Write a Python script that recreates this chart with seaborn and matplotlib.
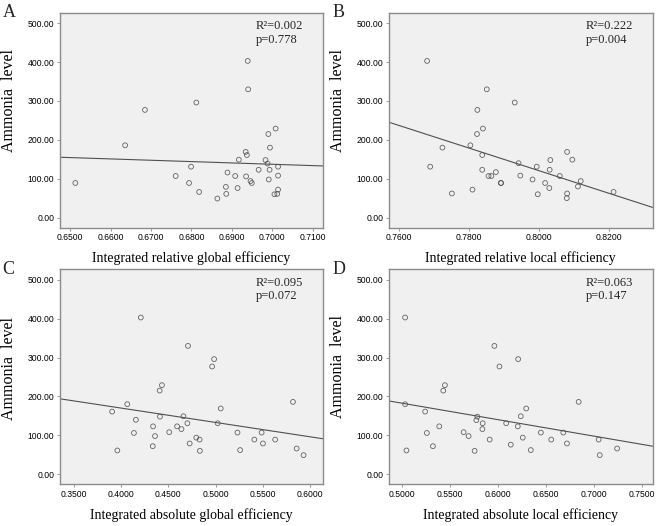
import matplotlib
matplotlib.use("Agg")
import matplotlib.pyplot as plt
from matplotlib.ticker import FormatStrFormatter
import numpy as np
import pandas as pd
import seaborn as sns

# ammonia level vs four network efficiency measures
relGlobal = [0.6513, 0.6636, 0.6685, 0.6761, 0.6794, 0.6799, 0.6812, 0.6819, 0.6864, 0.6885,
             0.6886, 0.6889, 0.6908, 0.6914, 0.6917, 0.6934, 0.6937, 0.6935, 0.6939, 0.6940,
             0.6946, 0.6949, 0.6966, 0.6983, 0.6988, 0.6990, 0.6991, 0.6993, 0.6994, 0.7008,
             0.7005, 0.7012, 0.7014, 0.7014, 0.7014]
ammoniaA = [89, 186, 277, 107, 89, 131, 296, 66, 49, 79, 61, 116, 107, 76, 149, 169, 161, 106,
            403, 330, 94, 89, 123, 148, 139, 215, 98, 123, 180, 229, 60, 61, 72, 131, 108]

relLocal = [0.7680, 0.7689, 0.7724, 0.7751, 0.7804, 0.7810, 0.7823, 0.7824, 0.7838, 0.7838,
            0.7840, 0.7856, 0.7864, 0.7877, 0.7851, 0.7891, 0.7892, 0.7931, 0.7942, 0.7947,
            0.7982, 0.7994, 0.7997, 0.8018, 0.8030, 0.8031, 0.8033, 0.8060, 0.8080, 0.8081,
            0.8081, 0.8096, 0.8112, 0.8120, 0.8214]
ammoniaB = [403, 131, 180, 62, 186, 72, 215, 277, 161, 123, 229, 107, 107, 117, 330, 89, 89,
            296, 140, 108, 98, 131, 60, 89, 76, 123, 148, 107, 50, 62, 169, 149, 80, 94, 66]

absGlobal = [0.4211, 0.4709, 0.4434, 0.4410, 0.4068, 0.3908, 0.4159, 0.4413, 0.4661, 0.4340,
             0.4594, 0.4640, 0.4703, 0.4138, 0.4361, 0.4511, 0.4337, 0.4727, 0.3963, 0.4985,
             0.4964, 0.5055, 0.5023, 0.4797, 0.4832, 0.4835, 0.5232, 0.5260, 0.5410, 0.5487,
             0.5501, 0.5630, 0.5818, 0.5857, 0.5930]
ammoniaC = [403, 330, 229, 215, 180, 161, 140, 148, 149, 123, 123, 116, 131, 106, 98, 108, 72,
            79, 61, 296, 277, 169, 131, 94, 89, 60, 107, 62, 89, 107, 79, 89, 186, 66, 49]

absLocal = [0.5028, 0.5028, 0.5042, 0.5237, 0.5255, 0.5318, 0.5384, 0.5426, 0.5443, 0.5638,
            0.5690, 0.5753, 0.5771, 0.5781, 0.5837, 0.5834, 0.5910, 0.5959, 0.6012, 0.6082,
            0.6130, 0.6207, 0.6203, 0.6234, 0.6255, 0.6291, 0.6339, 0.6444, 0.6552, 0.6678,
            0.6716, 0.6838, 0.7047, 0.7058, 0.7239]
ammoniaD = [403, 180, 61, 161, 106, 72, 123, 215, 229, 108, 98, 60, 139, 148, 131, 116, 89, 330,
            277, 131, 76, 296, 123, 149, 94, 169, 62, 107, 89, 107, 79, 186, 89, 49, 66]

panelLetters = ["A", "B", "C", "D"]
xLabels = ["Integrated relative global efficiency", "Integrated relative local efficiency",
           "Integrated absolute global efficiency", "Integrated absolute local efficiency"]
rSquared = ["0.002", "0.222", "0.095", "0.063"]
pValues = ["0.778", "0.004", "0.072", "0.147"]
xTicks = [np.arange(0.65, 0.7101, 0.01), np.arange(0.76, 0.8201, 0.02),
          np.arange(0.35, 0.6001, 0.05), np.arange(0.50, 0.7501, 0.05)]
yTicks = [0, 100, 200, 300, 400, 500]

sns.set_theme(style="ticks")
plt.rcParams['font.family'] = ['Liberation Sans', 'DejaVu Sans']

serif = ['Liberation Serif', 'DejaVu Serif']
frameColor = '#8c8c8c'

fig = plt.figure(figsize=(6.59, 5.26), dpi=100)
fig.patch.set_facecolor('white')

positions = [[0.0910, 0.5671, 0.3991, 0.4087], [0.5903, 0.5671, 0.4001, 0.4087],
             [0.0910, 0.0793, 0.3991, 0.4087], [0.5903, 0.0793, 0.4001, 0.4087]]
xLims = [(0.6475, 0.7125), (0.7571, 0.8326), (0.3357, 0.6135), (0.4860, 0.7610)]
yLabelPos = [0.59, 0.59, 0.54, 0.55]
letterPos = [(0.004, 0.992), (0.504, 0.992), (0.004, 0.503), (0.504, 0.503)]

panels = [(relGlobal, ammoniaA), (relLocal, ammoniaB), (absGlobal, ammoniaC), (absLocal, ammoniaD)]

for i, (xs, ys) in enumerate(panels):
    df = pd.DataFrame({'x': xs, 'y': ys})
    ax = fig.add_axes(positions[i])
    ax.set_facecolor('#f0f0f0')
    ax.set_xlim(xLims[i])
    ax.set_ylim(-26, 527)
    sns.regplot(data=df, x='x', y='y', ax=ax, ci=None, truncate=False,
                scatter_kws={'s': 12, 'facecolors': 'none', 'edgecolors': '#404040', 'linewidths': 0.6},
                line_kws={'color': '#505050', 'lw': 0.8})
    ax.set_xlim(xLims[i])
    ax.set_ylim(-26, 527)
    ax.set_xticks(xTicks[i])
    ax.set_yticks(yTicks)
    ax.xaxis.set_major_formatter(FormatStrFormatter('%.4f'))
    ax.yaxis.set_major_formatter(FormatStrFormatter('%.2f'))
    ax.tick_params(axis='both', labelsize=6.2, length=2.5, width=0.6, color=frameColor,
                   labelcolor='black', pad=1.5)
    for s in ax.spines.values():
        s.set_color(frameColor)
        s.set_linewidth(1.0)
    ax.set_xlabel(xLabels[i], family=serif, fontsize=10, color='black')
    ax.xaxis.set_label_coords(0.5, -0.11)
    ax.xaxis.label.set_va('top')
    ax.set_ylabel("Ammonia  level", family=serif, fontsize=11.5, color='black')
    # ylabel anchor is the right edge of the rotated text
    ax.yaxis.set_label_coords(-0.165, yLabelPos[i])
    ax.text(0.745, 0.965, "R\u00b2=" + rSquared[i] + "\np=" + pValues[i], transform=ax.transAxes,
            ha='left', va='top', family=serif, fontsize=9, linespacing=1.15)
    fig.text(letterPos[i][0], letterPos[i][1], panelLetters[i], ha='left', va='top',
             family=serif, fontsize=13)

fig.savefig("out.png", dpi=100, facecolor='white')
